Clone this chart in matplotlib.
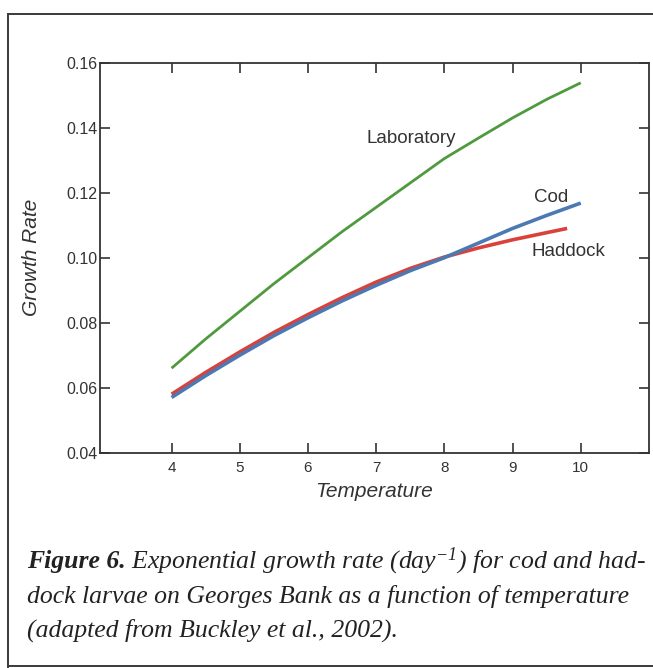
import matplotlib
matplotlib.use("Agg")
import matplotlib.pyplot as plt
from matplotlib.lines import Line2D

temp_lab = [4, 4.5, 5, 5.5, 6, 6.5, 7, 7.5, 8, 8.5, 9, 9.5, 10]
rate_lab = [0.066, 0.075, 0.0835, 0.092, 0.100, 0.108, 0.1155, 0.123, 0.1305, 0.1368, 0.1430, 0.1487, 0.1538]

temp_cod = [4, 4.5, 5, 5.5, 6, 6.5, 7, 7.5, 8, 8.5, 9, 9.5, 10]
rate_cod = [0.0570, 0.0637, 0.0700, 0.0760, 0.0815, 0.0867, 0.0915, 0.0960, 0.1000, 0.1045, 0.1090, 0.1130, 0.1168]

temp_had = [4, 4.5, 5, 5.5, 6, 6.5, 7, 7.5, 8, 8.5, 9, 9.5, 9.8]
rate_had = [0.0580, 0.0647, 0.0710, 0.0770, 0.0825, 0.0877, 0.0925, 0.0967, 0.1002, 0.1030, 0.1055, 0.1077, 0.1090]

x_ticks = [4, 5, 6, 7, 8, 9, 10]
y_ticks = [0.04, 0.06, 0.08, 0.10, 0.12, 0.14, 0.16]

plt.rcParams["font.family"] = ["Liberation Sans", "DejaVu Sans"]
plt.rcParams["mathtext.fontset"] = "custom"
plt.rcParams["mathtext.it"] = "Liberation Serif:italic"
plt.rcParams["mathtext.rm"] = "Liberation Serif:italic"

fig = plt.figure(figsize=(6.53, 6.68), dpi=100)
ax = fig.add_axes([0.1531, 0.3223, 0.8407, 0.5839])

ax.plot(temp_lab, rate_lab, color="#4f9a3e", lw=2.0, solid_capstyle="butt")
ax.plot(temp_cod, rate_cod, color="#4d79b3", lw=2.6, solid_capstyle="butt")
ax.plot(temp_had, rate_had, color="#d9413b", lw=2.6, solid_capstyle="butt", zorder=1.9)

ax.set_xlim(2.95, 11.0)
ax.set_ylim(0.04, 0.16)
ax.set_xticks(x_ticks)
ax.set_yticks(y_ticks)
ax.set_yticklabels([f"{v:.2f}" for v in y_ticks])
ax.tick_params(direction="in", length=7, width=1.2, color="#333333",
               top=True, right=True, labelcolor="#333333", pad=2)
ax.tick_params(axis="y", labelsize=11.5)
ax.tick_params(axis="x", labelsize=11, pad=6)
for s in ax.spines.values():
    s.set_color("#333333")
    s.set_linewidth(1.3)

ax.set_xlabel("Temperature", fontsize=15, style="italic", color="#333333", labelpad=5)
ax.set_ylabel("Growth Rate", fontsize=15, style="italic", color="#333333", labelpad=18)

ax.text(7.51, 0.1368, "Laboratory", fontsize=13.5, color="#333333", ha="center", va="center")
ax.text(9.56, 0.1186, "Cod", fontsize=13.5, color="#333333", ha="center", va="center")
ax.text(9.82, 0.1020, "Haddock", fontsize=13.5, color="#333333", ha="center", va="center")

# outer frame of the figure box
fc = "#3a3a3a"
fig.add_artist(Line2D([8 / 653, 8 / 653], [1 - 14 / 668, 1 - 667 / 668], color=fc, lw=1.4))
fig.add_artist(Line2D([8 / 653, 1.0], [1 - 14 / 668, 1 - 14 / 668], color=fc, lw=1.4))
fig.add_artist(Line2D([8 / 653, 1.0], [1 - 666 / 668, 1 - 666 / 668], color=fc, lw=1.4))

# caption
cap_kw = dict(fontsize=18.5, family="Liberation Serif", color="#222222", va="baseline")
x0 = 27 / 653
y1, y2, y3 = 1 - 568 / 668, 1 - 603 / 668, 1 - 637 / 668
t = fig.text(x0, y1, "Figure 6.", style="italic", weight="bold", **cap_kw)
fig.canvas.draw()
bb = t.get_window_extent(renderer=fig.canvas.get_renderer())
x1 = (bb.x1 + 5) / fig.bbox.width
fig.text(x1, y1, r"Exponential growth rate (day$^{-1}$) for cod and had-", style="italic", **cap_kw)
fig.text(x0, y2, "dock larvae on Georges Bank as a function of temperature", style="italic", **cap_kw)
fig.text(x0, y3, "(adapted from Buckley et al., 2002).", style="italic", **cap_kw)

fig.savefig("out.png", dpi=100)
